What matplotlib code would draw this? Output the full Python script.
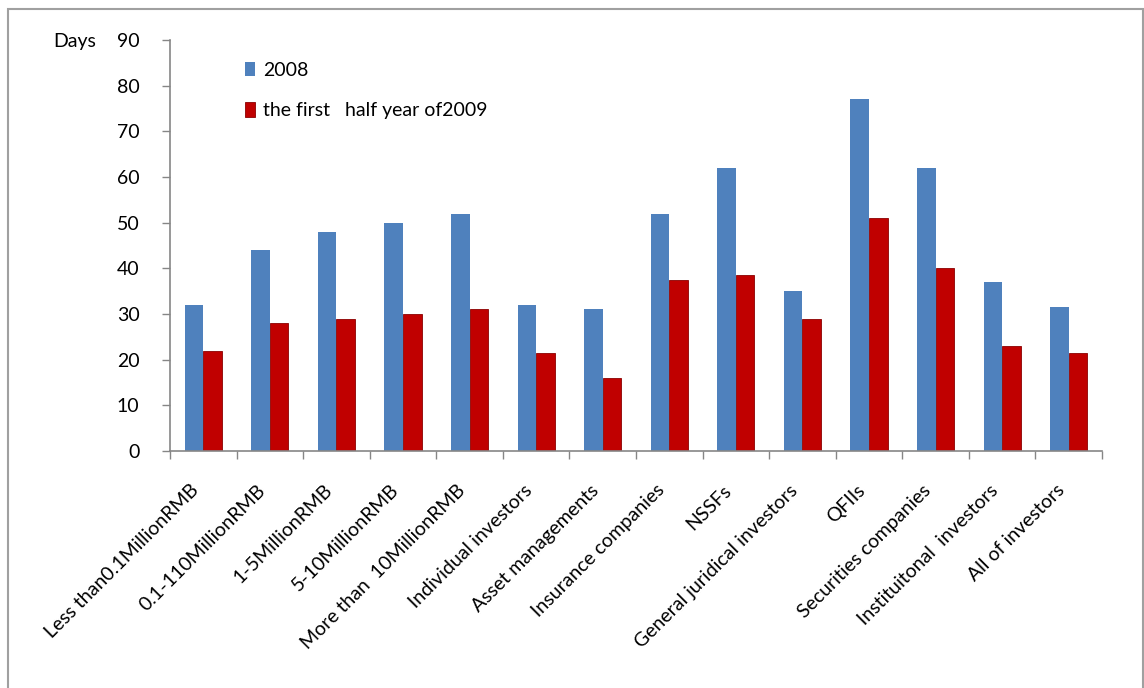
import matplotlib
matplotlib.use("Agg")
import matplotlib.pyplot as plt
import matplotlib.transforms as mtransforms
import numpy as np
from matplotlib.patches import Rectangle

categories = [
    "Less than0.1MillionRMB", "0.1-110MillionRMB", "1-5MillionRMB",
    "5-10MillionRMB", "More than  10MillionRMB", "Individual investors",
    "Asset managements", "Insurance companies", "NSSFs",
    "General juridical investors", "QFIIs", "Securities companies",
    "Instituitonal  investors", "All of investors",
]
values_2008 = [32, 44, 48, 50, 52, 32, 31, 52, 62, 35, 77, 62, 37, 31.5]
values_2009h1 = [22, 28, 29, 30, 31, 21.5, 16, 37.5, 38.5, 29, 51, 40, 23, 21.5]
series_names = ["2008", "the first   half year of2009"]
y_ticks = [0, 10, 20, 30, 40, 50, 60, 70, 80, 90]

plt.rcParams['font.family'] = ['Lato', 'DejaVu Sans']
FS = 14
AXC = "#868686"

fig = plt.figure(figsize=(11.44, 6.88), dpi=100)
ax = fig.add_axes([170/1144, 1 - 451/688, (1102-170)/1144, (451-40)/688])

x = np.arange(len(categories))
w = 0.28
ax.bar(x - w/2, values_2008, width=w, color="#4F81BD", label=series_names[0])
ax.bar(x + w/2, values_2009h1, width=w, color="#C00000",
       edgecolor="#8B0000", linewidth=0.6, label=series_names[1])

ax.set_xlim(-0.5, len(categories) - 0.5)
ax.set_ylim(0, 90)
ax.set_yticks(y_ticks)
ax.set_yticklabels([str(t) for t in y_ticks], fontsize=FS)
ax.set_xticks(x)
ax.set_xticklabels(categories, rotation=45, ha='right', rotation_mode='anchor', fontsize=FS)
ax.set_xticks(np.arange(-0.5, len(categories)), minor=True)
ax.tick_params(axis='x', which='major', length=0, pad=22)
ax.tick_params(axis='x', which='minor', length=6, color=AXC, width=1)
ax.tick_params(axis='y', length=6, color=AXC, width=1, pad=16)

shift = mtransforms.ScaledTranslation(-13/100, 0, fig.dpi_scale_trans)
for tick in ax.xaxis.get_major_ticks():
    tick.label1.set_transform(tick.label1.get_transform() + shift)

for s in ['top', 'right']:
    ax.spines[s].set_visible(False)
for s in ['left', 'bottom']:
    ax.spines[s].set_color(AXC)
    ax.spines[s].set_linewidth(1.2)

ax.legend(loc='upper left', bbox_to_anchor=(0.062, 0.99), frameon=False,
          fontsize=FS, handlelength=0.5, handleheight=0.8, handletextpad=0.4,
          labelspacing=1.2)

fig.text(53/1144, 1 - 41/688, "Days", fontsize=FS, va='center', ha='left')

fig.patches.append(Rectangle((8/1144, -0.01), (1143-8)/1144, 1 - 9/688 + 0.01,
                             transform=fig.transFigure, fill=False,
                             edgecolor="#A0A0A0", linewidth=1.5))

fig.savefig("out.png", dpi=100)
